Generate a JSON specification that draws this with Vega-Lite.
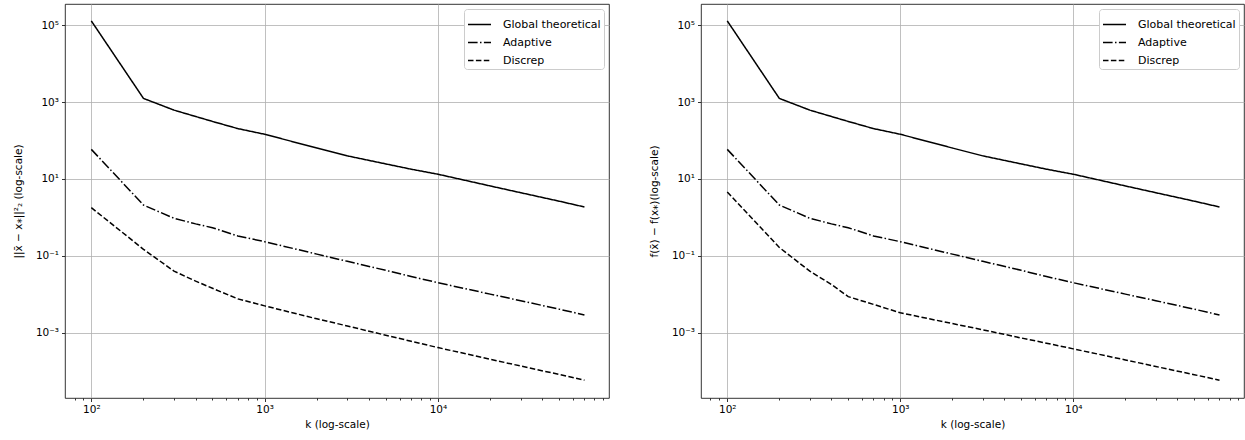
{
  "$schema": "https://vega.github.io/schema/vega-lite/v6.json",
  "padding": {"left": 12, "top": 3, "right": 1, "bottom": 0},
  "spacing": 38,
  "config": {
    "font": "DejaVu Sans",
    "view": {"stroke": "black", "strokeWidth": 0.8},
    "axis": {"domain": false, "gridColor": "#b0b0b0", "gridWidth": 0.8, "tickColor": "black", "tickWidth": 0.8, "labelFont": "DejaVu Sans", "labelFontSize": 10.5, "labelColor": "black", "titleFont": "DejaVu Sans", "titleFontSize": 10.5, "titleFontWeight": "normal", "titleColor": "black"},
    "legend": {"orient": "top-right", "offset": 5, "symbolType": "stroke", "symbolSize": 529, "symbolStrokeWidth": 1.5, "symbolStrokeColor": "black", "labelFont": "DejaVu Sans", "labelFontSize": 11, "labelColor": "black", "strokeColor": "#cccccc", "fillColor": "white", "cornerRadius": 3, "padding": 3, "rowPadding": -5, "labelOffset": 11},
    "line": {"color": "black", "strokeWidth": 1.5}
  },
  "resolve": {"scale": {"strokeDash": "independent"}, "legend": {"strokeDash": "independent"}},
  "datasets": {
    "d": [
      {"p": "L", "s": "Global theoretical", "k": 100, "v": 130000},
      {"p": "L", "s": "Global theoretical", "k": 200, "v": 1250},
      {"p": "L", "s": "Global theoretical", "k": 300, "v": 620},
      {"p": "L", "s": "Global theoretical", "k": 400, "v": 423},
      {"p": "L", "s": "Global theoretical", "k": 500, "v": 315},
      {"p": "L", "s": "Global theoretical", "k": 700, "v": 205},
      {"p": "L", "s": "Global theoretical", "k": 1000, "v": 146},
      {"p": "L", "s": "Global theoretical", "k": 2000, "v": 64},
      {"p": "L", "s": "Global theoretical", "k": 3000, "v": 40},
      {"p": "L", "s": "Global theoretical", "k": 5000, "v": 24.7},
      {"p": "L", "s": "Global theoretical", "k": 7000, "v": 18},
      {"p": "L", "s": "Global theoretical", "k": 10000, "v": 13.3},
      {"p": "L", "s": "Global theoretical", "k": 20000, "v": 6.6},
      {"p": "L", "s": "Global theoretical", "k": 30000, "v": 4.4},
      {"p": "L", "s": "Global theoretical", "k": 50000, "v": 2.65},
      {"p": "L", "s": "Global theoretical", "k": 70000, "v": 1.87},
      {"p": "L", "s": "Adaptive", "k": 100, "v": 59},
      {"p": "L", "s": "Adaptive", "k": 200, "v": 2.1},
      {"p": "L", "s": "Adaptive", "k": 300, "v": 0.95},
      {"p": "L", "s": "Adaptive", "k": 400, "v": 0.68},
      {"p": "L", "s": "Adaptive", "k": 500, "v": 0.54},
      {"p": "L", "s": "Adaptive", "k": 700, "v": 0.33},
      {"p": "L", "s": "Adaptive", "k": 1000, "v": 0.234},
      {"p": "L", "s": "Adaptive", "k": 2000, "v": 0.111},
      {"p": "L", "s": "Adaptive", "k": 3000, "v": 0.072},
      {"p": "L", "s": "Adaptive", "k": 5000, "v": 0.042},
      {"p": "L", "s": "Adaptive", "k": 7000, "v": 0.029},
      {"p": "L", "s": "Adaptive", "k": 10000, "v": 0.02},
      {"p": "L", "s": "Adaptive", "k": 20000, "v": 0.0101},
      {"p": "L", "s": "Adaptive", "k": 30000, "v": 0.0068},
      {"p": "L", "s": "Adaptive", "k": 50000, "v": 0.0041},
      {"p": "L", "s": "Adaptive", "k": 70000, "v": 0.0029},
      {"p": "L", "s": "Discrep", "k": 100, "v": 1.8},
      {"p": "L", "s": "Discrep", "k": 200, "v": 0.148},
      {"p": "L", "s": "Discrep", "k": 300, "v": 0.04},
      {"p": "L", "s": "Discrep", "k": 400, "v": 0.022},
      {"p": "L", "s": "Discrep", "k": 500, "v": 0.0143},
      {"p": "L", "s": "Discrep", "k": 700, "v": 0.0076},
      {"p": "L", "s": "Discrep", "k": 1000, "v": 0.005},
      {"p": "L", "s": "Discrep", "k": 2000, "v": 0.0023},
      {"p": "L", "s": "Discrep", "k": 3000, "v": 0.0015},
      {"p": "L", "s": "Discrep", "k": 5000, "v": 0.00086},
      {"p": "L", "s": "Discrep", "k": 7000, "v": 0.0006},
      {"p": "L", "s": "Discrep", "k": 10000, "v": 0.00041},
      {"p": "L", "s": "Discrep", "k": 20000, "v": 0.000204},
      {"p": "L", "s": "Discrep", "k": 30000, "v": 0.000136},
      {"p": "L", "s": "Discrep", "k": 50000, "v": 0.000082},
      {"p": "L", "s": "Discrep", "k": 70000, "v": 0.000058},
      {"p": "R", "s": "Global theoretical", "k": 100, "v": 130000},
      {"p": "R", "s": "Global theoretical", "k": 200, "v": 1250},
      {"p": "R", "s": "Global theoretical", "k": 300, "v": 620},
      {"p": "R", "s": "Global theoretical", "k": 400, "v": 423},
      {"p": "R", "s": "Global theoretical", "k": 500, "v": 315},
      {"p": "R", "s": "Global theoretical", "k": 700, "v": 205},
      {"p": "R", "s": "Global theoretical", "k": 1000, "v": 146},
      {"p": "R", "s": "Global theoretical", "k": 2000, "v": 64},
      {"p": "R", "s": "Global theoretical", "k": 3000, "v": 40},
      {"p": "R", "s": "Global theoretical", "k": 5000, "v": 24.7},
      {"p": "R", "s": "Global theoretical", "k": 7000, "v": 18},
      {"p": "R", "s": "Global theoretical", "k": 10000, "v": 13.3},
      {"p": "R", "s": "Global theoretical", "k": 20000, "v": 6.6},
      {"p": "R", "s": "Global theoretical", "k": 30000, "v": 4.4},
      {"p": "R", "s": "Global theoretical", "k": 50000, "v": 2.65},
      {"p": "R", "s": "Global theoretical", "k": 70000, "v": 1.87},
      {"p": "R", "s": "Adaptive", "k": 100, "v": 59},
      {"p": "R", "s": "Adaptive", "k": 200, "v": 2.1},
      {"p": "R", "s": "Adaptive", "k": 300, "v": 0.95},
      {"p": "R", "s": "Adaptive", "k": 400, "v": 0.68},
      {"p": "R", "s": "Adaptive", "k": 500, "v": 0.54},
      {"p": "R", "s": "Adaptive", "k": 700, "v": 0.33},
      {"p": "R", "s": "Adaptive", "k": 1000, "v": 0.234},
      {"p": "R", "s": "Adaptive", "k": 2000, "v": 0.111},
      {"p": "R", "s": "Adaptive", "k": 3000, "v": 0.072},
      {"p": "R", "s": "Adaptive", "k": 5000, "v": 0.042},
      {"p": "R", "s": "Adaptive", "k": 7000, "v": 0.029},
      {"p": "R", "s": "Adaptive", "k": 10000, "v": 0.02},
      {"p": "R", "s": "Adaptive", "k": 20000, "v": 0.0101},
      {"p": "R", "s": "Adaptive", "k": 30000, "v": 0.0068},
      {"p": "R", "s": "Adaptive", "k": 50000, "v": 0.0041},
      {"p": "R", "s": "Adaptive", "k": 70000, "v": 0.0029},
      {"p": "R", "s": "Discrep", "k": 100, "v": 4.6},
      {"p": "R", "s": "Discrep", "k": 200, "v": 0.165},
      {"p": "R", "s": "Discrep", "k": 300, "v": 0.04},
      {"p": "R", "s": "Discrep", "k": 400, "v": 0.018},
      {"p": "R", "s": "Discrep", "k": 500, "v": 0.0087},
      {"p": "R", "s": "Discrep", "k": 700, "v": 0.00546},
      {"p": "R", "s": "Discrep", "k": 1000, "v": 0.0033},
      {"p": "R", "s": "Discrep", "k": 2000, "v": 0.00173},
      {"p": "R", "s": "Discrep", "k": 3000, "v": 0.00119},
      {"p": "R", "s": "Discrep", "k": 5000, "v": 0.00073},
      {"p": "R", "s": "Discrep", "k": 7000, "v": 0.000535},
      {"p": "R", "s": "Discrep", "k": 10000, "v": 0.00038},
      {"p": "R", "s": "Discrep", "k": 20000, "v": 0.000196},
      {"p": "R", "s": "Discrep", "k": 30000, "v": 0.000132},
      {"p": "R", "s": "Discrep", "k": 50000, "v": 0.000081},
      {"p": "R", "s": "Discrep", "k": 70000, "v": 0.000058}
    ]
  },
  "hconcat": [
    {
      "width": 544,
      "height": 394,
      "data": {"name": "d"},
      "transform": [{"filter": "datum.p == 'L'"}],
      "mark": {"type": "line", "color": "black", "strokeWidth": 1.5, "clip": true},
      "encoding": {
        "x": {"field": "k", "type": "quantitative", "scale": {"type": "log", "domain": [70.5, 97000], "nice": false},
          "axis": {"title": "k (log-scale)", "values": [80, 90, 100, 200, 300, 400, 500, 600, 700, 800, 900, 1000, 2000, 3000, 4000, 5000, 6000, 7000, 8000, 9000, 10000, 20000, 30000, 40000, 50000, 60000, 70000, 80000, 90000],
            "labelExpr": "datum.value == 100 ? '10²' : datum.value == 1000 ? '10³' : datum.value == 10000 ? '10⁴' : ''",
            "gridOpacity": {"condition": {"test": "datum.value == 100 || datum.value == 1000 || datum.value == 10000", "value": 1}, "value": 0},
            "tickSize": {"condition": {"test": "datum.value == 100 || datum.value == 1000 || datum.value == 10000", "value": 3.5}, "value": 2},
            "labelPadding": 3, "titlePadding": 4, "labelFlush": false, "labelOverlap": false}},
        "y": {"field": "v", "type": "quantitative", "scale": {"type": "log", "domain": [2.0e-5, 358000], "nice": false},
          "axis": {"title": "||x̄ − x⁎||²₂ (log-scale)", "values": [0.001, 0.1, 10, 1000, 100000],
            "labelExpr": "datum.value >= 1e5 ? '10⁵' : datum.value >= 1e3 ? '10³' : datum.value >= 10 ? '10¹' : datum.value >= 0.1 ? '10⁻¹' : '10⁻³'",
            "tickSize": 3.5, "labelPadding": 3, "titlePadding": 12, "labelOverlap": false}},
        "strokeDash": {"field": "s", "type": "nominal",
          "scale": {"domain": ["Global theoretical", "Adaptive", "Discrep"], "range": [[1, 0], [9.6, 2.4, 1.5, 2.4], [5.5, 2.4]]},
          "legend": {"title": null}}
      }
    },
    {
      "width": 543,
      "height": 394,
      "data": {"name": "d"},
      "transform": [{"filter": "datum.p == 'R'"}],
      "mark": {"type": "line", "color": "black", "strokeWidth": 1.5, "clip": true},
      "encoding": {
        "x": {"field": "k", "type": "quantitative", "scale": {"type": "log", "domain": [70.5, 97000], "nice": false},
          "axis": {"title": "k (log-scale)", "values": [80, 90, 100, 200, 300, 400, 500, 600, 700, 800, 900, 1000, 2000, 3000, 4000, 5000, 6000, 7000, 8000, 9000, 10000, 20000, 30000, 40000, 50000, 60000, 70000, 80000, 90000],
            "labelExpr": "datum.value == 100 ? '10²' : datum.value == 1000 ? '10³' : datum.value == 10000 ? '10⁴' : ''",
            "gridOpacity": {"condition": {"test": "datum.value == 100 || datum.value == 1000 || datum.value == 10000", "value": 1}, "value": 0},
            "tickSize": {"condition": {"test": "datum.value == 100 || datum.value == 1000 || datum.value == 10000", "value": 3.5}, "value": 2},
            "labelPadding": 3, "titlePadding": 4, "labelFlush": false, "labelOverlap": false}},
        "y": {"field": "v", "type": "quantitative", "scale": {"type": "log", "domain": [2.0e-5, 358000], "nice": false},
          "axis": {"title": "f(x̄) − f(x⁎)(log-scale)", "values": [0.001, 0.1, 10, 1000, 100000],
            "labelExpr": "datum.value >= 1e5 ? '10⁵' : datum.value >= 1e3 ? '10³' : datum.value >= 10 ? '10¹' : datum.value >= 0.1 ? '10⁻¹' : '10⁻³'",
            "tickSize": 3.5, "labelPadding": 3, "titlePadding": 12, "labelOverlap": false}},
        "strokeDash": {"field": "s", "type": "nominal",
          "scale": {"domain": ["Global theoretical", "Adaptive", "Discrep"], "range": [[1, 0], [9.6, 2.4, 1.5, 2.4], [5.5, 2.4]]},
          "legend": {"title": null}}
      }
    }
  ]
}
